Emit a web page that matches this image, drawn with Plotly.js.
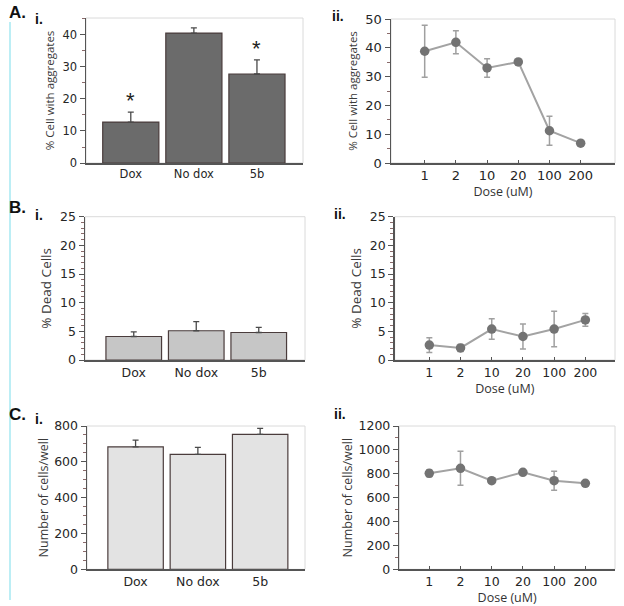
<!DOCTYPE html>
<html><head><meta charset="utf-8">
<script src="https://cdn.plot.ly/plotly-3.0.1.min.js"></script>
<style>html,body{margin:0;padding:0;background:#fff}#chart{width:624px;height:606px}</style>
</head><body><div id="chart"></div>
<script>
const categories = ['Dox', 'No dox', '5b'];
const doses = ['1', '2', '10', '20', '100', '200'];
const signif = ['*', '', '*'];

const aggBar = [12.8, 40.6, 27.8];
const aggBarErr = [3.1, 1.6, 4.4];
const aggDose = [38.8, 41.9, 33.0, 35.1, 11.2, 6.9];
const aggDoseErr = [9.0, 4.0, 3.2, 0.3, 5.0, 0.3];

const deadBar = [4.1, 5.1, 4.8];
const deadBarErr = [0.8, 1.6, 0.9];
const deadDose = [2.6, 2.1, 5.4, 4.1, 5.4, 7.0];
const deadDoseErr = [1.3, 0.6, 1.8, 2.2, 3.1, 1.1];

const cellBar = [684, 642, 753];
const cellBarErr = [37, 39, 34];
const cellDose = [804, 846, 742, 812, 742, 720];
const cellDoseErr = [30, 143, 10, 10, 80, 10];

const W = 624, H = 606;
const FONT = 'DejaVu Sans, Verdana, sans-serif';
const TFONT = 'Open Sans, DejaVu Sans, sans-serif';
const TXT = '#262626';
const AX = '#555555';

function px(a, b) { return [a / W, b / W]; }
function py(top, bottom) { return [1 - bottom / H, 1 - top / H]; }

function barTrace(vals, errs, color, ax) {
  return {
    type: 'bar', x: categories, y: vals, xaxis: 'x' + ax, yaxis: 'y' + ax,
    marker: {color: color, line: {color: '#4a3c3c', width: 1.2}},
    error_y: {type: 'data', symmetric: false, array: errs, arrayminus: errs.map(() => 0),
              color: '#4a4a4a', thickness: 1.3, width: 3},
    showlegend: false
  };
}
function lineTrace(vals, errs, ax) {
  return {
    type: 'scatter', mode: 'lines+markers', x: doses, y: vals, xaxis: 'x' + ax, yaxis: 'y' + ax,
    line: {color: '#a3a3a3', width: 2},
    marker: {color: '#737373', size: 9.5},
    error_y: {type: 'data', array: errs, color: '#a0a0a0', thickness: 1.5, width: 3},
    showlegend: false
  };
}

const data = [
  barTrace(aggBar, aggBarErr, '#6b6b6b', ''),
  lineTrace(aggDose, aggDoseErr, '2'),
  barTrace(deadBar, deadBarErr, '#c6c6c6', '3'),
  lineTrace(deadDose, deadDoseErr, '4'),
  barTrace(cellBar, cellBarErr, '#e3e3e3', '5'),
  lineTrace(cellDose, cellDoseErr, '6')
];

function xax(domain, range, anchor, titleText, tsize, tick) {
  const a = {
    domain: domain, range: range, type: 'category', anchor: anchor,
    showline: true, linecolor: AX, linewidth: 1.5,
    ticks: tick ? 'inside' : '', ticklen: 3, tickcolor: AX, showgrid: false, zeroline: false,
    tickfont: {family: FONT, size: tsize, color: TXT}, fixedrange: true
  };
  if (titleText) a.title = {text: titleText, font: {family: TFONT, size: 12.5, color: '#333'}, standoff: 1};
  return a;
}
function yax(domain, range, dtick, minor, anchor, titleText, tsize, ttsize, standoff) {
  return {
    domain: domain, range: range, dtick: dtick, tick0: 0, anchor: anchor,
    showline: true, linecolor: AX, linewidth: 1.5, ticks: 'outside', ticklen: 5, tickcolor: AX,
    minor: {dtick: minor, ticks: 'outside', ticklen: 3, tickcolor: '#8a6a6a'},
    showgrid: false, zeroline: false,
    tickfont: {family: FONT, size: tsize, color: TXT},
    title: {text: titleText, font: {family: TFONT, size: ttsize, color: '#3a3a3a'}, standoff: standoff},
    fixedrange: true
  };
}

const layout = {
  width: W, height: H, margin: {l: 0, r: 0, t: 0, b: 0},
  paper_bgcolor: '#fff', plot_bgcolor: '#fff', bargap: 0.11,
  xaxis: xax(px(86, 303), [-0.71, 2.73], 'y', null, 11.5, false),
  yaxis: yax(py(18, 163), [0, 45.3], 10, 5, 'x', '% Cell with aggregates', 11.5, 11.5, 5),
  xaxis2: xax(px(391, 615), [-1.08, 6.1], 'y2', 'Dose (uM)', 13, true),
  yaxis2: yax(py(19, 163), [0, 50], 10, 5, 'x2', '% Cell with aggregates', 13, 11.5, 5),
  xaxis3: xax(px(85, 305), [-0.78, 2.74], 'y3', null, 12.5, false),
  yaxis3: yax(py(216.7, 360), [0, 25], 5, 1, 'x3', '% Dead Cells', 12.5, 13.5, 5),
  xaxis4: xax(px(394.7, 615), [-1.11, 5.95], 'y4', 'Dose (uM)', 12.5, true),
  yaxis4: yax(py(216.7, 360), [0, 25], 5, 1, 'x4', '% Dead Cells', 12.5, 13.5, 5),
  xaxis5: xax(px(87, 305), [-0.78, 2.72], 'y5', null, 12.5, false),
  yaxis5: yax(py(426, 569.3), [0, 800], 200, 50, 'x5', 'Number of cells/well', 12.5, 12.5, 3),
  xaxis6: xax(px(399.3, 615), [-0.96, 5.95], 'y6', 'Dose (uM)', 12.5, true),
  yaxis6: yax(py(426, 569.3), [0, 1200], 200, 100, 'x6', 'Number of cells/well', 12.5, 12.5, 3),
  shapes: [],
  annotations: []
};

['', '2', '3', '4', '5', '6'].forEach(s => {
  layout.shapes.push({type: 'rect', xref: 'x' + s + ' domain', yref: 'y' + s + ' domain',
    x0: 0, x1: 1, y0: 0, y1: 1, line: {color: '#dadada', width: 1}, layer: 'below'});
});
layout.shapes.push({type: 'line', xref: 'paper', yref: 'paper', x0: 10 / W, x1: 10 / W,
  y0: 1 - 600 / H, y1: 1 - 22 / H, line: {color: '#a6e8f2', width: 1.5}});

categories.forEach((c, i) => {
  if (signif[i]) layout.annotations.push({xref: 'x', yref: 'y', x: c, y: aggBar[i] + aggBarErr[i],
    text: signif[i], showarrow: false, yanchor: 'bottom', yshift: -3,
    font: {family: 'Liberation Sans, Arial', size: 22, color: '#222'}});
});

const labels = [
  ['A.', 7, 13, 17], ['i.', 33, 19, 14], ['ii.', 330, 16, 14],
  ['B.', 7, 208, 17], ['i.', 33, 215, 14], ['ii.', 332, 214, 14],
  ['C.', 7, 414, 17], ['i.', 33, 419, 14], ['ii.', 332, 414, 14]
];
labels.forEach(l => layout.annotations.push({xref: 'paper', yref: 'paper', x: l[1] / W, y: 1 - l[2] / H,
  xanchor: 'left', yanchor: 'middle', text: '<b>' + l[0] + '</b>', showarrow: false,
  font: {family: 'Liberation Sans, Arial', size: l[3], color: '#111'}}));

Plotly.newPlot('chart', data, layout, {displayModeBar: false, staticPlot: true});
</script></body></html>
